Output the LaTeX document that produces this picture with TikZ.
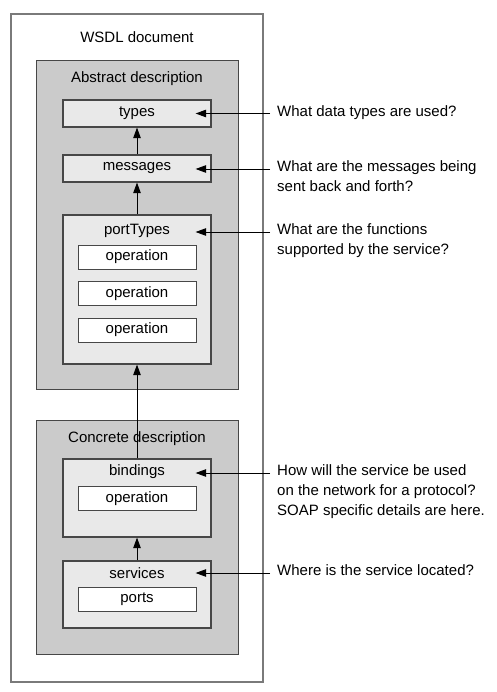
\documentclass[tikz,border=0pt]{standalone}
\usepackage{fontspec}
\setmainfont{Liberation Sans}
\usepackage{xcolor}
\usetikzlibrary{arrows.meta,positioning}

\definecolor{docrim}{HTML}{7A7A7A}
\definecolor{rim}{HTML}{474747}
\definecolor{panel}{HTML}{CBCBCB}
\definecolor{card}{HTML}{E9E9E9}

\begin{document}
\begin{tikzpicture}[
    x=1pt, y=-1pt,
    font=\fontsize{15}{20}\selectfont,
    doc/.style={rectangle, draw=docrim, line width=1.3pt, fill=white, minimum width=252pt, minimum height=668pt},
    part/.style={rectangle, draw=rim, line width=0.8pt, fill=panel, minimum width=202pt},
    block/.style={rectangle, draw=rim, line width=1.2pt, fill=card, minimum width=148pt},
    item/.style={rectangle, draw=rim, line width=0.8pt, fill=white, minimum width=118pt, minimum height=24pt},
    title/.style={inner sep=0pt},
    note/.style={inner xsep=7pt, inner ysep=0pt, anchor=mid west},
    link/.style={-{Triangle[length=10.5pt,width=7.5pt]}, line width=0.9pt}
]
    \useasboundingbox (0,0) rectangle (496,692);

    \node [doc] (wsdl) at (137,348) {};
    \node [title] (wsdltitle) at (137,37) {WSDL document};

    \node [part, minimum height=329pt] (abs) at (137,224.5) {};
    \node [title] (abstitle) at (137,79) {Abstract description};
    \node [block, minimum height=27pt] (types) at (137,113.5) {types};
    \node [block, minimum height=27pt] (msgs) at (137,168.5) {messages};
    \node [block, minimum height=149pt] (ptypes) at (137,289.5) {};
    \node [title] (ptitle) at (137,231) {portTypes};
    \node [item] (op1) at (137,257) {operation};
    \node [item] (op2) at (137,293.5) {operation};
    \node [item] (op3) at (137,330) {operation};

    \node [part, minimum height=234pt] (con) at (137,537) {};
    \node [title] (contitle) at (137,439) {Concrete description};
    \node [block, minimum height=78pt] (bind) at (137,498) {};
    \node [title] (btitle) at (137,472) {bindings};
    \node [item] (bop) at (137,498.5) {operation};
    \node [block, minimum height=67pt] (serv) at (137,594.5) {};
    \node [title] (stitle) at (137,573) {services};
    \node [item] (ports) at (137,599.5) {ports};

    \draw [link] (msgs) -- (types);
    \draw [link] (ptypes) -- (msgs);
    \draw [link] (bind) -- (ptypes);
    \draw [link] (serv) -- (bind);

    \node [note] (q1) at (270,113.5) {\begin{tabular}[t]{@{}l@{}}What data types are used?\end{tabular}};
    \node [note] (q2) at (270,169) {\begin{tabular}[t]{@{}l@{}}What are the messages being\\sent back and forth?\end{tabular}};
    \node [note] (q3) at (270,232) {\begin{tabular}[t]{@{}l@{}}What are the functions\\supported by the service?\end{tabular}};
    \node [note] (q4) at (270,473) {\begin{tabular}[t]{@{}l@{}}How will the service be used\\on the network for a protocol?\\SOAP specific details are here.\end{tabular}};
    \node [note] (q5) at (270,573) {\begin{tabular}[t]{@{}l@{}}Where is the service located?\end{tabular}};

    \draw [link] (q1.mid west) -- ([xshift=-16pt]q1.mid west -| types.east);
    \draw [link] (q2.mid west) -- ([xshift=-16pt]q2.mid west -| msgs.east);
    \draw [link] (q3.mid west) -- ([xshift=-16pt]q3.mid west -| ptypes.east);
    \draw [link] (q4.mid west) -- ([xshift=-16pt]q4.mid west -| bind.east);
    \draw [link] (q5.mid west) -- ([xshift=-16pt]q5.mid west -| serv.east);

\end{tikzpicture}
\end{document}
